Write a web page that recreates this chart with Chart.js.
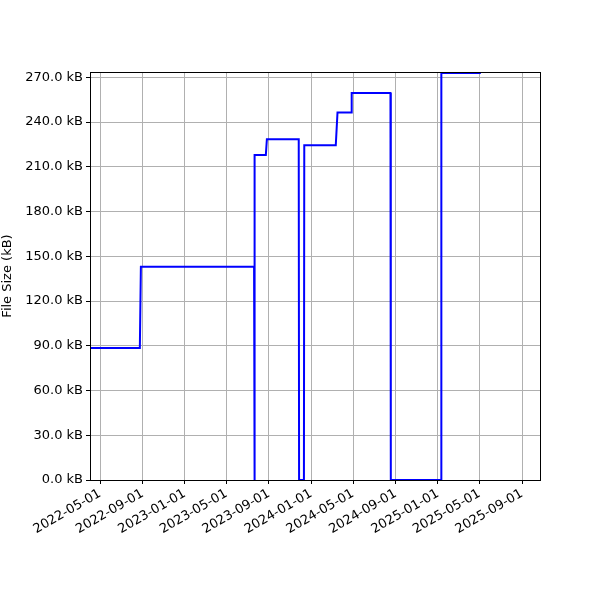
<!DOCTYPE html>
<html>
<head>
<meta charset="utf-8">
<script src="https://cdn.jsdelivr.net/npm/chart.js@4"></script>
<style>
  html, body { margin: 0; padding: 0; background: #fff; }
  #wrap { width: 600px; height: 600px; }
</style>
</head>
<body>
<div id="wrap"><canvas id="grafico"></canvas></div>
<script>
// --- Dados ---
const datas = [
    '2022-04-02', '2022-08-24', '2022-08-27',
    '2023-07-20', '2023-07-21', '2023-07-22',
    '2023-08-23', '2023-08-26',
    '2023-11-26', '2023-11-27', '2023-12-11', '2023-12-12',
    '2024-03-12', '2024-03-17',
    '2024-04-25', '2024-04-27',
    '2024-08-17', '2024-08-18', '2025-01-10', '2025-01-11',
    '2025-05-05'
];
const tamanhosKB = [
    88.5, 88.5, 143,
    143, 0, 218,
    218, 228.5,
    228.5, 0, 0, 224.5,
    224.5, 246.5,
    246.5, 259.5,
    259.5, 0, 0, 273,
    273
];
const ticksX = [
    '2022-05-01', '2022-09-01', '2023-01-01', '2023-05-01', '2023-09-01', '2024-01-01',
    '2024-05-01', '2024-09-01', '2025-01-01', '2025-05-01', '2025-09-01'
];
const ticksY = [0, 30, 60, 90, 120, 150, 180, 210, 240, 270];
const limiteX = ['2022-04-02', '2025-10-23'];

const paraMs = (d) => Date.parse(d + 'T00:00:00Z');
const pontos = datas.map((d, i) => ({ x: paraMs(d), y: tamanhosKB[i] }));

Chart.defaults.font.family = "'DejaVu Sans', sans-serif";
Chart.defaults.font.size = 13;
Chart.defaults.color = '#000';

// moldura preta em volta da área do gráfico
const moldura = {
    id: 'moldura',
    afterDraw(chart) {
        const a = chart.chartArea;
        const c = chart.ctx;
        c.save();
        c.strokeStyle = '#000';
        c.lineWidth = 1;
        c.strokeRect(Math.round(a.left) + 0.5, Math.round(a.top) + 0.5,
            Math.round(a.right - a.left), Math.round(a.bottom - a.top));
        c.restore();
    }
};

const ctx = document.getElementById('grafico');
new Chart(ctx, {
    type: 'line',
    data: {
        datasets: [{
            data: pontos,
            borderColor: '#0000ff',
            borderWidth: 2,
            pointRadius: 0,
            tension: 0,
            fill: false
        }]
    },
    options: {
        responsive: true,
        maintainAspectRatio: false,
        animation: false,
        layout: { padding: { top: 72, right: 60, left: 0, bottom: 0 } },
        plugins: {
            legend: { display: false },
            tooltip: { enabled: false }
        },
        scales: {
            x: {
                type: 'linear',
                min: paraMs(limiteX[0]),
                max: paraMs(limiteX[1]),
                afterBuildTicks: (s) => { s.ticks = ticksX.map(t => ({ value: paraMs(t) })); },
                afterFit: (s) => { s.height = 120; },
                ticks: {
                    autoSkip: false,
                    minRotation: 30,
                    maxRotation: 30,
                    padding: 2,
                    callback: (v) => new Date(v).toISOString().slice(0, 10)
                },
                grid: {
                    color: '#b0b0b0',
                    lineWidth: 1,
                    tickLength: 4,
                    tickColor: '#000'
                },
                border: { color: '#000' }
            },
            y: {
                min: 0,
                max: Math.max(...tamanhosKB) + 0.6,
                afterBuildTicks: (s) => { s.ticks = ticksY.map(v => ({ value: v })); },
                afterFit: (s) => { s.width = 90; },
                ticks: {
                    padding: 3,
                    callback: (v) => v.toFixed(1) + ' kB'
                },
                grid: {
                    color: '#b0b0b0',
                    lineWidth: 1,
                    tickLength: 4,
                    tickColor: '#000'
                },
                border: { color: '#000' },
                title: {
                    display: true,
                    text: 'File Size (kB)',
                    padding: 0
                }
            }
        }
    },
    plugins: [moldura]
});
</script>
</body>
</html>
